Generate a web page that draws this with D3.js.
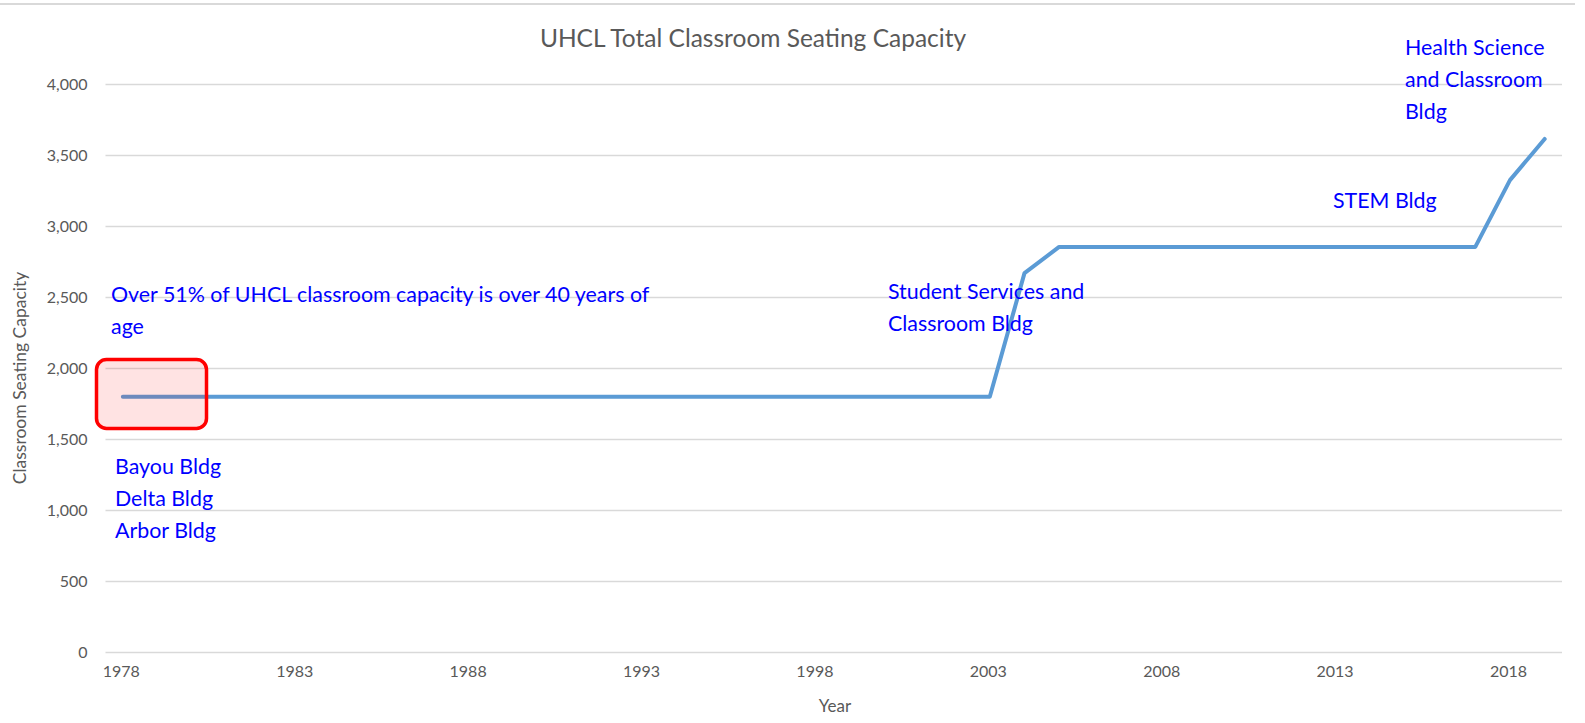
<!DOCTYPE html>
<html>
<head>
<meta charset="utf-8">
<script src="https://cdn.jsdelivr.net/npm/d3@7"></script>
<style>
  html, body { margin: 0; padding: 0; background: #ffffff; }
  svg { display: block; }
  text { font-family: Lato, "Open Sans", "Noto Sans", sans-serif; }
</style>
</head>
<body>
<svg id="chart" width="1585" height="723"></svg>
<script>
// ---- data ----
const years = ["1978","1979","1980","1981","1982","1983","1984","1985","1986","1987",
               "1988","1989","1990","1991","1992","1993","1994","1995","1996","1997",
               "1998","1999","2000","2001","2002","2003","2004","2005","2006","2007",
               "2008","2009","2010","2011","2012","2013","2014","2015","2016","2017",
               "2018","2019"];
const capacity = [1800,1800,1800,1800,1800,1800,1800,1800,1800,1800,
                  1800,1800,1800,1800,1800,1800,1800,1800,1800,1800,
                  1800,1800,1800,1800,1800,1800,2670,2855,2855,2855,
                  2855,2855,2855,2855,2855,2855,2855,2855,2855,2855,
                  3325,3615];
const xTickLabels = ["1978","1983","1988","1993","1998","2003","2008","2013","2018"];
const yTickValues = [0,500,1000,1500,2000,2500,3000,3500,4000];
const titleText = "UHCL Total Classroom Seating Capacity";
const xAxisTitle = "Year";
const yAxisTitle = "Classroom Seating Capacity";
const noteAge = ["Over 51% of UHCL classroom capacity is over 40 years of", "age"];
const noteOld = ["Bayou Bldg", "Delta Bldg", "Arbor Bldg"];
const noteSSCB = ["Student Services and", "Classroom Bldg"];
const noteSTEM = ["STEM Bldg"];
const noteHSCB = ["Health Science", "and Classroom", "Bldg"];

// ---- layout ----
const svg = d3.select("#chart");
const plotL = 105.5, plotR = 1562, plotT = 84.3, plotB = 652.3;
const x = d3.scaleBand().domain(years).range([plotL, plotR]).padding(0);
const y = d3.scaleLinear().domain([0, 4000]).range([plotB, plotT]);
const cx = d => x(d) + x.bandwidth() / 2;

// top border
svg.append("line").attr("x1", 0).attr("x2", 1575).attr("y1", 4).attr("y2", 4)
  .attr("stroke", "#d9d9d9").attr("stroke-width", 2);

// gridlines
svg.append("g").selectAll("line").data(yTickValues).join("line")
  .attr("x1", plotL).attr("x2", plotR)
  .attr("y1", d => Math.round(y(d)) + 0.5).attr("y2", d => Math.round(y(d)) + 0.5)
  .attr("stroke", "#d9d9d9").attr("stroke-width", 1.3);

// y axis labels
const yAxis = d3.axisLeft(y).tickValues(yTickValues).tickFormat(d3.format(",")).tickSize(0).tickPadding(0);
const gy = svg.append("g").attr("transform", `translate(${plotL - 18},0)`).call(yAxis);
gy.select(".domain").remove();
gy.selectAll("text").attr("fill", "#595959").style("font-size", "16px").style("font-family", "Lato, sans-serif");

// x axis labels
const xAxis = d3.axisBottom(x).tickValues(xTickLabels).tickSize(0).tickPadding(0);
const gx = svg.append("g").attr("transform", `translate(-1.5,${plotB + 13})`).call(xAxis);
gx.select(".domain").remove();
gx.selectAll("text").attr("fill", "#595959").style("font-size", "16px").style("font-family", "Lato, sans-serif");

// line
const line = d3.line().x((d, i) => cx(years[i])).y(d => y(d));
svg.append("path").datum(capacity).attr("d", line)
  .attr("fill", "none").attr("stroke", "#5B9BD5").attr("stroke-width", 4)
  .attr("stroke-linejoin", "round").attr("stroke-linecap", "round");

// highlight box
svg.append("rect").attr("x", 96.5).attr("y", 359.5).attr("width", 110).attr("height", 69)
  .attr("rx", 10).attr("ry", 10)
  .attr("fill", "rgba(255,0,0,0.11)").attr("stroke", "#ff0000").attr("stroke-width", 3.5);

// title
svg.append("text").attr("x", 753).attr("y", 47).attr("text-anchor", "middle")
  .attr("fill", "#595959").style("font-size", "24.5px").text(titleText);

// axis titles
svg.append("text").attr("x", 835).attr("y", 712).attr("text-anchor", "middle")
  .attr("fill", "#595959").style("font-size", "17px").text(xAxisTitle);
svg.append("text").attr("transform", "translate(26,378) rotate(-90)").attr("text-anchor", "middle")
  .attr("fill", "#595959").style("font-size", "17.5px").text(yAxisTitle);

// annotations
function note(lines, x0, y0, lh, size) {
  const t = svg.append("text").attr("fill", "#0000ff").style("font-size", size + "px");
  lines.forEach((s, i) => {
    t.append("tspan").attr("x", x0).attr("y", y0 + i * lh).text(s);
  });
}
note(noteAge, 111, 302, 32, 21.4);
note(noteOld, 115, 474, 32, 21.4);
note(noteSSCB, 888, 299, 32, 21.4);
note(noteSTEM, 1333, 208, 32, 21.4);
note(noteHSCB, 1405, 55, 32, 21.4);
</script>
</body>
</html>
